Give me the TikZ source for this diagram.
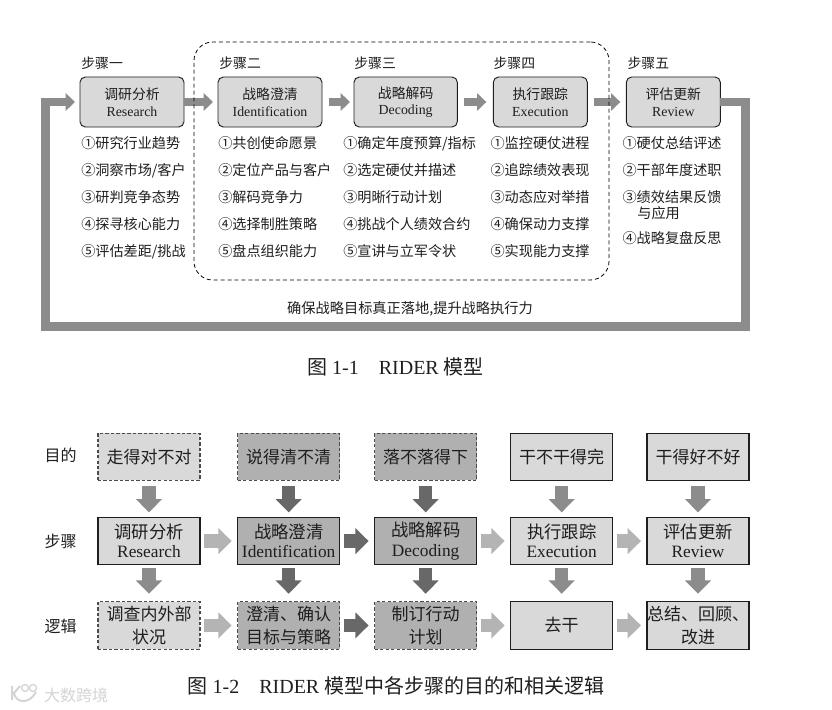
\documentclass[tikz,border=0pt]{standalone}
\usepackage{fontspec}
\setmainfont{Liberation Serif}
\newfontfamily\cjk{Noto Sans CJK SC}
\usepackage{xcolor}
\usetikzlibrary{arrows.meta, positioning}
\definecolor{inkblack}{RGB}{30,30,30}
\definecolor{boxlight}{RGB}{217,217,217}
\definecolor{boxmid}{RGB}{176,176,176}
\definecolor{arrowlight}{RGB}{180,180,180}
\definecolor{arrowmid}{RGB}{140,140,140}
\definecolor{arrowdark}{RGB}{104,104,104}
\definecolor{markgray}{RGB}{212,212,212}
\newcommand{\stepfont}{\fontsize{10.4}{12.5}\selectfont}
\newcommand{\listfont}{\fontsize{10.6}{20.25}\selectfont}
\newcommand{\gridfont}{\fontsize{13}{14.5}\selectfont}
\newcommand{\logicfont}{\fontsize{12.75}{17}\selectfont}
\tikzset{
  stepbox/.style={rectangle, rounded corners=4pt, draw=inkblack, fill=boxlight,
    line width=0.7pt, outer sep=0pt, minimum width=78pt, minimum height=37.5pt, inner sep=0pt,
    align=center, text=inkblack, font=\stepfont},
  steplabel/.style={anchor=south west, inner sep=0pt, text=inkblack, font=\cjk\stepfont},
  listnode/.style={anchor=north west, inner sep=0pt, align=left, text=inkblack, font=\cjk\listfont},
  textnode/.style={inner sep=0pt, text=inkblack},
  groupbox/.style={rectangle, rounded corners=14pt, draw=black, line width=0.6pt,
    dash pattern=on 3pt off 2.2pt, minimum width=311.25pt, minimum height=178.5pt},
  toparrow/.style={-{Triangle[length=7pt, width=13pt]}, line width=6.5pt, color=arrowmid},
  looparrow/.style={toparrow, shorten >=3.75pt},
  gridbox/.style={rectangle, draw=inkblack, line width=0.8pt, outer sep=0pt, fill=boxlight, inner sep=0pt,
    minimum width=76.5pt, minimum height=35.5pt, align=center, text=inkblack, font=\gridfont},
  logicbox/.style={gridbox, font=\cjk\logicfont},
  midbox/.style={fill=boxmid},
  dashbox/.style={draw=inkblack!80, dash pattern=on 2.5pt off 1.6pt},
  gridarrow/.style={-{Triangle[length=10pt, width=19pt]}, line width=10pt},
  flowarrow/.style={gridarrow, shorten <=3pt, shorten >=4.5pt},
  downarrow/.style={gridarrow, shorten <=4.5pt, shorten >=3.75pt},
  lowarrow/.style={gridarrow, shorten <=2.25pt, shorten >=6pt},
  markline/.style={draw=markgray, line width=1.5pt},
}
\begin{document}
\begin{tikzpicture}[x=0.75pt, y=-0.75pt]
  \useasboundingbox (0,0) rectangle (832,710);

  \node[stepbox] (research) at (132,102) {{\cjk 调研分析}\\Research};
  \node[stepbox, right=25.5pt of research] (identify) {{\cjk 战略澄清}\\Identification};
  \node[stepbox, right=24pt of identify, minimum width=77.5pt] (decode) {{\cjk 战略解码}\\Decoding};
  \node[stepbox, right=27pt of decode, minimum width=70.5pt] (execute) {{\cjk 执行跟踪}\\Execution};
  \node[stepbox, right=29.25pt of execute, minimum width=70.5pt] (review) {{\cjk 评估更新}\\Review};

  \node[steplabel, above=5.5pt of research.north west, anchor=south west, xshift=0.75pt] (labelone) {步骤一};
  \node[steplabel, above=5.5pt of identify.north west, anchor=south west, xshift=0.75pt] (labeltwo) {步骤二};
  \node[steplabel, above=5.5pt of decode.north west, anchor=south west] (labelthree) {步骤三};
  \node[steplabel, above=5.5pt of execute.north west, anchor=south west] (labelfour) {步骤四};
  \node[steplabel, above=5.5pt of review.north west, anchor=south west, xshift=0.75pt] (labelfive) {步骤五};

  \node[listnode, below=7pt of research.south west, anchor=north west, xshift=0.75pt] (listone)
    {①研究行业趋势\\②洞察市场/客户\\③研判竞争态势\\④探寻核心能力\\⑤评估差距/挑战};
  \node[listnode, below=7pt of identify.south west, anchor=north west] (listtwo)
    {①共创使命愿景\\②定位产品与客户\\③解码竞争力\\④选择制胜策略\\⑤盘点组织能力};
  \node[listnode, below=7pt of decode.south west, anchor=north west, xshift=-8.25pt] (listthree)
    {①确定年度预算/指标\\②选定硬仗并描述\\③明晰行动计划\\④挑战个人绩效合约\\⑤宣讲与立军令状};
  \node[listnode, below=7pt of execute.south west, anchor=north west, xshift=-2.25pt] (listfour)
    {①监控硬仗进程\\②追踪绩效表现\\③动态应对举措\\④确保动力支撑\\⑤实现能力支撑};
  \node[listnode, below=7pt of review.south west, anchor=north west, xshift=-3pt] (listfive)
    {①硬仗总结评述\\②干部年度述职\\③绩效结果反馈\\[-8.25pt]\hspace*{1.05em}与应用\\[-1.5pt]④战略复盘反思};

  \coordinate (loopright) at (745.5,326.5);
  \coordinate (loopleft) at (45.5,326.5);
  \draw[looparrow] (review.east) -| (loopright) -- (loopleft) |- (research.west);

  \draw[toparrow, shorten >=3.75pt] (research) -- (identify);
  \draw[toparrow, shorten <=5.25pt, shorten >=3pt] (identify) -- (decode);
  \draw[toparrow, shorten <=5.25pt, shorten >=5.25pt] (decode) -- (execute);
  \draw[toparrow, shorten <=5.25pt, shorten >=4.5pt] (execute) -- (review);

  \node[groupbox] (group) at (401.5,161) {};

  \node[textnode, font=\cjk\fontsize{10.66}{13}\selectfont] (goalnote) at (410,309) {确保战略目标真正落地,提升战略执行力};
  \node[textnode, font=\fontsize{15}{17}\selectfont] (captionone) at (395.5,367) {{\cjk 图} 1-1\quad RIDER {\cjk 模型}};

  \node[logicbox, dashbox] (aimone) at (149,456.75) {走得对不对};
  \node[logicbox, dashbox, midbox, right=28.25pt of aimone] (aimtwo) {说得清不清};
  \node[logicbox, dashbox, midbox, right=26.25pt of aimtwo] (aimthree) {落不落得下};
  \node[logicbox, right=25.5pt of aimthree] (aimfour) {干不干得完};
  \node[logicbox, right=25.75pt of aimfour] (aimfive) {干得好不好};

  \node[gridbox, below=27.75pt of aimone] (gridone) {{\cjk 调研分析}\\Research};
  \node[gridbox, midbox, below=27.75pt of aimtwo] (gridtwo) {{\cjk 战略澄清}\\Identification};
  \node[gridbox, midbox, below=27.75pt of aimthree] (gridthree) {{\cjk 战略解码}\\Decoding};
  \node[gridbox, below=27.75pt of aimfour] (gridfour) {{\cjk 执行跟踪}\\Execution};
  \node[gridbox, below=27.75pt of aimfive] (gridfive) {{\cjk 评估更新}\\Review};

  \node[logicbox, dashbox, below=27.75pt of gridone] (logicone) {调查内外部\\状况};
  \node[logicbox, dashbox, midbox, below=27.75pt of gridtwo] (logictwo) {澄清、确认\\目标与策略};
  \node[logicbox, dashbox, midbox, below=27.75pt of gridthree] (logicthree) {制订行动\\计划};
  \node[logicbox, below=27.75pt of gridfour] (logicfour) {去干};
  \node[logicbox, below=27.75pt of gridfive] (logicfive) {总结、回顾、\\改进};

  \node[textnode, font=\cjk\fontsize{12}{15}\selectfont] (rowaim) at (60.5,455) {目的};
  \node[textnode, font=\cjk\fontsize{12}{15}\selectfont] (rowstep) at (60.5,541) {步骤};
  \node[textnode, font=\cjk\fontsize{12}{15}\selectfont] (rowlogic) at (60.5,626) {逻辑};

  \draw[downarrow, color=arrowmid] (aimone) -- (gridone);
  \draw[downarrow, color=arrowdark] (aimtwo) -- (gridtwo);
  \draw[downarrow, color=arrowdark] (aimthree) -- (gridthree);
  \draw[downarrow, color=arrowmid] (aimfour) -- (gridfour);
  \draw[downarrow, color=arrowmid] (aimfive) -- (gridfive);

  \draw[lowarrow, color=arrowmid] (gridone) -- (logicone);
  \draw[lowarrow, color=arrowdark] (gridtwo) -- (logictwo);
  \draw[lowarrow, color=arrowdark] (gridthree) -- (logicthree);
  \draw[lowarrow, color=arrowmid] (gridfour) -- (logicfour);
  \draw[lowarrow, color=arrowmid] (gridfive) -- (logicfive);

  \draw[flowarrow, color=arrowlight] (gridone) -- (gridtwo);
  \draw[flowarrow, color=arrowdark] (gridtwo) -- (gridthree);
  \draw[flowarrow, color=arrowlight] (gridthree) -- (gridfour);
  \draw[flowarrow, color=arrowlight] (gridfour) -- (gridfive);

  \draw[flowarrow, color=arrowlight] (logicone) -- (logictwo);
  \draw[flowarrow, color=arrowdark] (logictwo) -- (logicthree);
  \draw[flowarrow, color=arrowlight] (logicthree) -- (logicfour);
  \draw[flowarrow, color=arrowlight] (logicfour) -- (logicfive);

  \node[textnode, font=\fontsize{15}{17}\selectfont] (captiontwo) at (396,686)
    {{\cjk 图} 1-2\quad RIDER {\cjk 模型中各步骤的目的和相关逻辑}};

  \draw[markline] (12,686) -- (12,700) (14,693) -- (20,686) (14,693) .. controls (16,704) and (30,704) .. (36,692);
  \draw[markline, line width=1pt] (25,688) circle (3.5) (33,688) circle (3.5);
  \node[textnode, text=markgray, font=\cjk\fontsize{12}{15}\selectfont] (watermark) at (76,695) {大数跨境};
\end{tikzpicture}
\end{document}
